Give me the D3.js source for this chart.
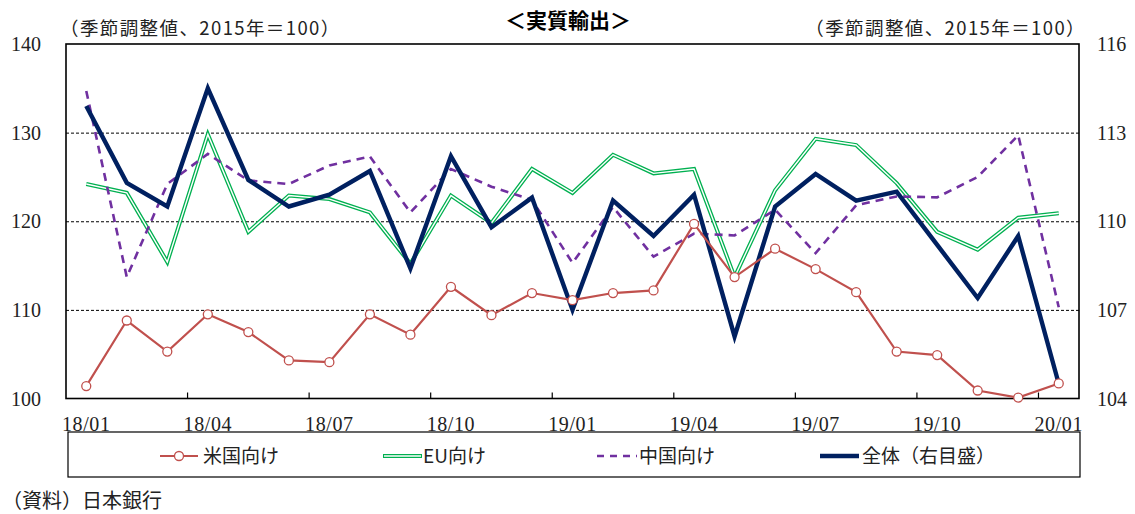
<!DOCTYPE html>
<html><head><meta charset="utf-8">
<script src="https://cdn.jsdelivr.net/npm/d3@7"></script>
<style>
body{margin:0;background:#fff;}
svg{display:block;}
text{font-family:"Liberation Serif","Noto Sans CJK JP",serif;fill:#222;}
.jp{font-family:"Noto Sans CJK JP","Liberation Serif",sans-serif;}
</style></head><body>
<svg id="c" width="1135" height="514"></svg>
<script>
const categories = ["18/01","18/02","18/03","18/04","18/05","18/06","18/07","18/08","18/09","18/10","18/11","18/12",
  "19/01","19/02","19/03","19/04","19/05","19/06","19/07","19/08","19/09","19/10","19/11","19/12","20/01"];
const usValues = [101.4,108.8,105.3,109.5,107.5,104.3,104.1,109.5,107.2,112.6,109.4,111.9,111.1,111.9,112.2,119.7,113.7,116.9,114.6,112.0,105.3,104.9,100.9,100.1,101.7];
const euValues = [124.2,123.2,115.4,129.8,118.8,122.9,122.5,121.0,115.2,122.9,119.8,125.9,123.2,127.5,125.4,125.9,113.7,123.5,129.3,128.6,124.3,118.8,116.8,120.4,120.9];
const cnValues = [134.7,113.7,124.2,127.6,124.6,124.2,126.3,127.3,121.0,125.9,123.9,122.4,115.3,121.6,116.0,118.6,118.4,121.3,116.4,121.8,122.8,122.7,125.0,129.7,110.3];
const totalValues = [113.9,111.3,110.5,114.5,111.4,110.5,110.9,111.7,108.4,112.2,109.8,110.8,107.0,110.7,109.5,110.9,106.1,110.5,111.6,110.7,111.0,109.2,107.4,109.5,104.5];
const leftTicks = [100,110,120,130,140];
const rightTicks = [104,107,110,113,116];
const xLabels = ["18/01","18/04","18/07","18/10","19/01","19/04","19/07","19/10","20/01"];
const unitLabel = "（季節調整値、2015年＝100）";
const title = "＜実質輸出＞";
const legendItems = ["米国向け","EU向け","中国向け","全体（右目盛）"];
const source = "（資料）日本銀行";

const svg = d3.select("#c");
const L = 66, R = 1079, T = 44, B = 398.5;
const x = d3.scaleBand().domain(categories).range([L, R]).padding(0);
const cx = d => x(d) + x.bandwidth()/2;
const yL = d3.scaleLinear().domain([100,140]).range([B, T]);
const yR = d3.scaleLinear().domain([104,116]).range([B, T]);

// gridlines
const grid = svg.append("g").attr("transform",`translate(${L},0)`)
  .call(d3.axisLeft(yL).tickValues([110,120,130]).tickSize(-(R-L)).tickFormat(""));
grid.select(".domain").remove();
grid.selectAll("line").attr("stroke","#000").attr("stroke-width",1).attr("stroke-dasharray","3,2");

// frame
svg.append("rect").attr("x",L).attr("y",T).attr("width",R-L).attr("height",B-T)
  .attr("fill","none").attr("stroke","#000").attr("stroke-width",1.6);

// x ticks at category boundaries every 3
const tickCats = categories.filter((d,i)=> i>0 && i%3===0);
svg.append("g").selectAll("line").data(tickCats).join("line")
  .attr("x1",d=>x(d)).attr("x2",d=>x(d)).attr("y1",B).attr("y2",B-6)
  .attr("stroke","#000").attr("stroke-width",1.2);

// x labels
svg.append("g").selectAll("text").data(xLabels).join("text")
  .attr("x",d=>cx(d)).attr("y",431).attr("text-anchor","middle")
  .attr("font-size",20).attr("letter-spacing",0.6).text(d=>d);

// left labels
svg.append("g").selectAll("text").data(leftTicks).join("text")
  .attr("x",41).attr("y",d=>yL(d)+7).attr("text-anchor","end")
  .attr("font-size",20).text(d=>d);
// right labels
svg.append("g").selectAll("text").data(rightTicks).join("text")
  .attr("x",1097).attr("y",d=>yR(d)+7).attr("text-anchor","start")
  .attr("font-size",20).text(d=>d);

// unit labels
svg.append("text").attr("class","jp").attr("x",60).attr("y",35).attr("font-size",18.5).attr("letter-spacing",1.4).text(unitLabel);
svg.append("text").attr("class","jp").attr("x",1086).attr("y",35).attr("font-size",18.5).attr("letter-spacing",1.4).attr("text-anchor","end").text(unitLabel);
// title
svg.append("text").attr("class","jp").attr("x",568).attr("y",28).attr("text-anchor","middle")
  .attr("font-size",21).attr("font-weight","bold").style("fill","#000").text(title);

const lineL = d3.line().x((d,i)=>cx(categories[i])).y(d=>yL(d));
const lineR = d3.line().x((d,i)=>cx(categories[i])).y(d=>yR(d));

// EU double line
svg.append("path").attr("d",lineL(euValues)).attr("fill","none").attr("stroke","#00B050").attr("stroke-width",4).attr("stroke-linejoin","miter");
svg.append("path").attr("d",lineL(euValues)).attr("fill","none").attr("stroke","#fff").attr("stroke-width",1.4).attr("stroke-linejoin","miter");
// China dashed
svg.append("path").attr("d",lineL(cnValues)).attr("fill","none").attr("stroke","#7030A0").attr("stroke-width",2.6).attr("stroke-dasharray","8,6");
// Total
svg.append("path").attr("d",lineR(totalValues)).attr("fill","none").attr("stroke","#002060").attr("stroke-width",4.4).attr("stroke-linejoin","miter");
// US
svg.append("path").attr("d",lineL(usValues)).attr("fill","none").attr("stroke","#C0504D").attr("stroke-width",2.2);
svg.append("g").selectAll("circle").data(usValues).join("circle")
  .attr("cx",(d,i)=>cx(categories[i])).attr("cy",d=>yL(d)).attr("r",4.5)
  .attr("fill","#fff").attr("stroke","#C0504D").attr("stroke-width",1.3);

// legend
svg.append("rect").attr("x",68).attr("y",432).attr("width",1012).attr("height",45)
  .attr("fill","none").attr("stroke","#000").attr("stroke-width",1.2);
const ly = 456;
const lg = svg.append("g");
const lx = [160,383,597,820];
// US
lg.append("line").attr("x1",lx[0]).attr("x2",lx[0]+38).attr("y1",ly).attr("y2",ly).attr("stroke","#C0504D").attr("stroke-width",2.2);
lg.append("circle").attr("cx",lx[0]+19).attr("cy",ly).attr("r",4.5).attr("fill","#fff").attr("stroke","#C0504D").attr("stroke-width",1.3);
// EU
lg.append("line").attr("x1",lx[1]).attr("x2",lx[1]+39).attr("y1",ly).attr("y2",ly).attr("stroke","#00B050").attr("stroke-width",4);
lg.append("line").attr("x1",lx[1]+1).attr("x2",lx[1]+38).attr("y1",ly).attr("y2",ly).attr("stroke","#fff").attr("stroke-width",1.4);
// CN
lg.append("line").attr("x1",lx[2]).attr("x2",lx[2]+40).attr("y1",ly).attr("y2",ly).attr("stroke","#7030A0").attr("stroke-width",2.6).attr("stroke-dasharray","7,6");
// Total
lg.append("line").attr("x1",lx[3]).attr("x2",lx[3]+39).attr("y1",ly).attr("y2",ly).attr("stroke","#002060").attr("stroke-width",4.4);
lg.selectAll("text.lt").data(legendItems).join("text").attr("class","lt jp")
  .attr("x",(d,i)=>lx[i]+[43,40,42,42][i]).attr("y",ly+7).attr("font-size",19).text(d=>d);

svg.append("text").attr("class","jp").attr("x",2).attr("y",508).attr("font-size",20).text(source);
</script>
</body></html>
